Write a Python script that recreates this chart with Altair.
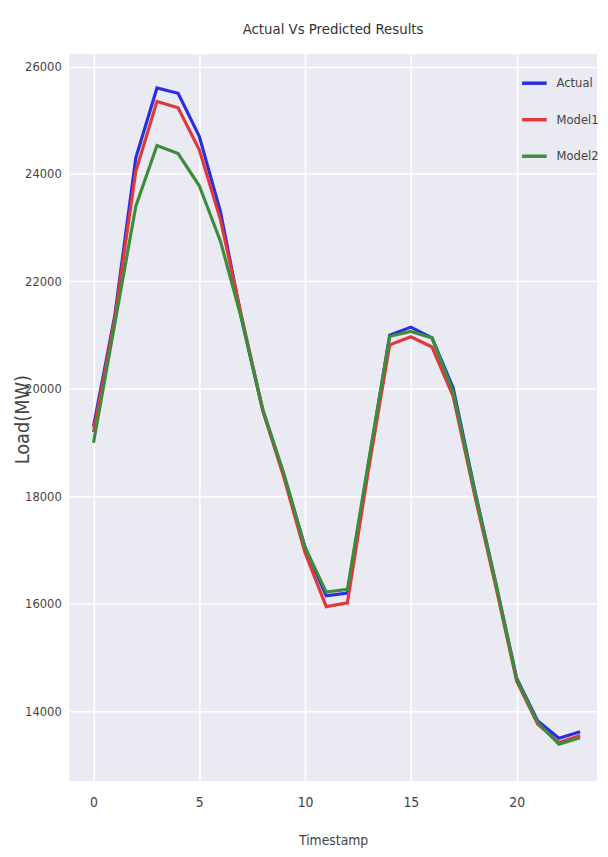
import altair as alt
import pandas as pd

timestamps = list(range(24))
actual = [19300, 21350, 24300, 25600, 25500, 24700, 23300, 21300, 19600, 18400, 17050, 16150,
          16200, 18600, 21000, 21150, 20950, 20020, 18150, 16400, 14620, 13820, 13500, 13620]
model1 = [19200, 21300, 24050, 25350, 25230, 24450, 23150, 21350, 19600, 18350, 16950, 15950,
          16020, 18500, 20820, 20970, 20780, 19860, 18050, 16350, 14560, 13760, 13420, 13550]
model2 = [19000, 21200, 23400, 24530, 24380, 23780, 22750, 21300, 19620, 18420, 17050, 16220,
          16270, 18650, 20980, 21070, 20950, 19950, 18120, 16420, 14600, 13790, 13390, 13510]
series_names = ["Actual", "Model1", "Model2"]
series_colors = ["#2b2de0", "#e0383c", "#3c8c3c"]
x_ticks = [0, 5, 10, 15, 20]
y_ticks = [14000, 16000, 18000, 20000, 22000, 24000, 26000]

rows = []
for name, vals in zip(series_names, [actual, model1, model2]):
    for t, v in zip(timestamps, vals):
        rows.append({"Timestamp": t, "Load": v, "Series": name})
df = pd.DataFrame(rows)

FONT = "DejaVu Sans Condensed, sans-serif"

chart = alt.Chart(df, title=alt.TitleParams(
    "Actual Vs Predicted Results", fontSize=15, font=FONT, fontWeight="normal",
    color="#333333", anchor="middle", offset=17)).mark_line(strokeWidth=3.2).encode(
    x=alt.X("Timestamp:Q", scale=alt.Scale(domain=[-1.15, 23.8], nice=False, zero=False),
            axis=alt.Axis(values=x_ticks, title="Timestamp", format="d", grid=True,
                          labelFontSize=14, labelFont=FONT, labelColor="#444444",
                          labelPadding=15, titleFontSize=14, titleFont=FONT,
                          titleFontWeight="normal", titleColor="#444444",
                          titleY=60, titleBaseline="middle")),
    y=alt.Y("Load:Q", scale=alt.Scale(domain=[12700, 26230], nice=False, zero=False),
            axis=alt.Axis(values=y_ticks, title="Load(MW)", format="d", grid=True,
                          labelFontSize=13, labelFont=FONT, labelColor="#444444",
                          labelPadding=8, titleFontSize=20, titleFont=FONT,
                          titleFontWeight="normal", titleColor="#444444",
                          titleX=-47, titleY=370, titleAngle=270, titleAlign="center",
                          titleBaseline="middle")),
    color=alt.Color("Series:N", scale=alt.Scale(domain=series_names, range=series_colors),
                    legend=alt.Legend(title=None, orient="none", legendX=457, legendY=15,
                                      symbolType="stroke", symbolStrokeWidth=3.5,
                                      symbolSize=625, labelFontSize=13, labelFont=FONT,
                                      labelColor="#444444", labelOffset=8, rowPadding=15)),
).properties(
    width=535, height=737,
    autosize=alt.AutoSizeParams(type="none"),
    padding={"left": 62, "top": 41, "right": 3, "bottom": 70},
).configure_view(
    fill="#EAEAF2", stroke=None
).configure_axis(
    domain=False, ticks=False, gridColor="#FFFFFF", gridWidth=1.6, gridOpacity=1
)

chart.save("out.html", embed_options={"renderer": "svg", "actions": False})
